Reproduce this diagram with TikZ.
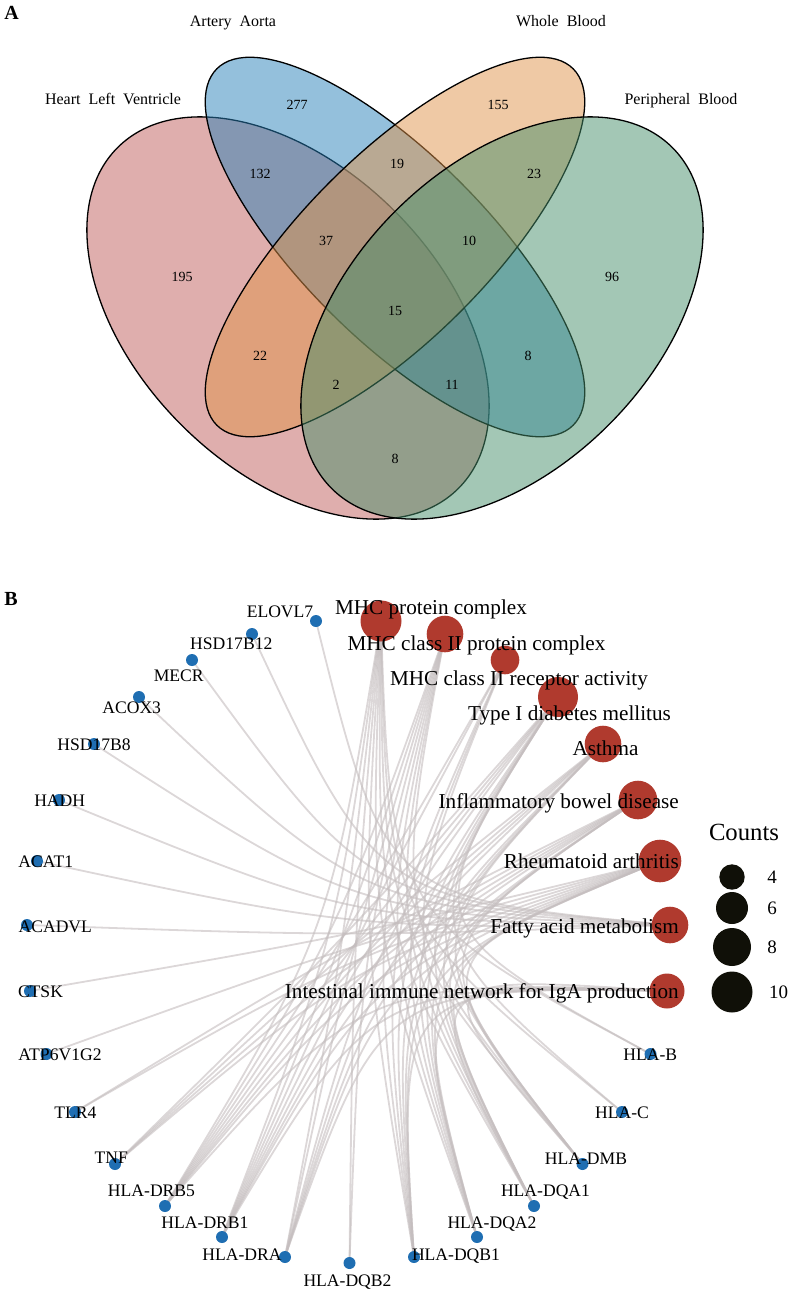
\documentclass[tikz,border=0pt]{standalone}
\usepackage{fontspec}
\setmainfont{Liberation Serif}
\usetikzlibrary{calc}
\pgfdeclarelayer{bg}
\pgfsetlayers{bg,main}
\definecolor{vpink}{RGB}{191,93,91}
\definecolor{vblue}{RGB}{41,129,185}
\definecolor{vorange}{RGB}{223,147,75}
\definecolor{vgreen}{RGB}{71,143,107}
\definecolor{gblue}{RGB}{31,110,178}
\definecolor{tred}{RGB}{176,58,46}
\definecolor{edgec}{RGB}{196,189,190}
\definecolor{legk}{RGB}{16,16,8}
\begin{document}
\begin{tikzpicture}[x=1pt,y=-1pt,
  vset/.style={fill opacity=0.5, draw=black, line width=1.3pt},
  vlab/.style={font=\fontsize{16}{18}\selectfont, inner sep=0, anchor=base},
  vnum/.style={font=\fontsize{14}{16}\selectfont, inner sep=0},
  panel/.style={font=\fontsize{20}{22}\selectfont\bfseries, inner sep=0},
  gene/.style={circle, fill=gblue, minimum size=12pt, inner sep=0},
  term/.style={circle, fill=tred, inner sep=0},
  glab/.style={font=\fontsize{17.6}{20}\selectfont, inner sep=0, anchor=base},
  tlab/.style={font=\fontsize{21.2}{24}\selectfont, inner sep=0, anchor=base},
  tlabr/.style={font=\fontsize{21.2}{24}\selectfont, inner sep=0, anchor=base east},
  edge/.style={draw=edgec, line width=1.8pt, draw opacity=0.6},
  legdot/.style={circle, fill=legk, inner sep=0},
  leglab/.style={font=\fontsize{19}{21}\selectfont, inner sep=0},
]
\useasboundingbox (0,0) rectangle (790,1291);

% ---------------- Panel A : Venn ----------------
\node[panel] (pA) at (11.5,12.5) {A};
\draw[vset, fill=vpink, rotate around={-45:(288,318)}] (288,318) ellipse [x radius=241pt, y radius=151pt];
\draw[vset, fill=vblue, rotate around={-45:(395,247)}] (395,247) ellipse [x radius=252pt, y radius=92pt];
\draw[vset, fill=vorange, rotate around={45:(395,247)}] (395,247) ellipse [x radius=252pt, y radius=92pt];
\draw[vset, fill=vgreen, rotate around={45:(502,318)}] (502,318) ellipse [x radius=241pt, y radius=151pt];

\node[vlab] (lHLV) at (113,104) {Heart~~Left~~Ventricle};
\node[vlab] (lAA) at (233,26) {Artery~~Aorta};
\node[vlab] (lWB) at (561,26) {Whole~~Blood};
\node[vlab] (lPB) at (681,104) {Peripheral~~Blood};

\node[vnum] (n277) at (297,105) {277};
\node[vnum] (n155) at (498,105) {155};
\node[vnum] (n132) at (260,174) {132};
\node[vnum] (n19) at (397,164) {19};
\node[vnum] (n23) at (534,174) {23};
\node[vnum] (n195) at (182,277) {195};
\node[vnum] (n37) at (326,241) {37};
\node[vnum] (n10) at (469,241) {10};
\node[vnum] (n96) at (612,277) {96};
\node[vnum] (n15) at (395,311) {15};
\node[vnum] (n22) at (260,356) {22};
\node[vnum] (n8a) at (528,356) {8};
\node[vnum] (n2) at (336,385) {2};
\node[vnum] (n11) at (452,385) {11};
\node[vnum] (n8b) at (395,459) {8};

% ---------------- Panel B : network ----------------
\node[panel] (pB) at (11,599) {B};
\coordinate (C) at (349,940);

% term nodes
\node[term, minimum size=41pt] (MHCpc) at (381,621) {};
\node[term, minimum size=36.6pt] (MHCIIpc) at (445,634) {};
\node[term, minimum size=28.6pt] (MHCIIra) at (505,660) {};
\node[term, minimum size=40pt] (TID) at (558,697) {};
\node[term, minimum size=36.6pt] (Asthma) at (603,744) {};
\node[term, minimum size=38.6pt] (IBD) at (638,800) {};
\node[term, minimum size=42.6pt] (RA) at (660,861) {};
\node[term, minimum size=36.6pt] (FAM) at (670,925) {};
\node[term, minimum size=35pt] (IgA) at (667,991) {};

% gene nodes
\node[gene] (ELOVL7) at (316,621) {};
\node[gene] (HSDxii) at (252,634) {};
\node[gene] (MECR) at (192,660) {};
\node[gene] (ACOX3) at (139,697) {};
\node[gene] (HSDviii) at (94,744) {};
\node[gene] (HADH) at (59,800) {};
\node[gene] (ACAT1) at (37,861) {};
\node[gene] (ACADVL) at (27,925) {};
\node[gene] (CTSK) at (30,991) {};
\node[gene] (ATP) at (46.5,1054) {};
\node[gene] (TLR4) at (75,1112) {};
\node[gene] (TNF) at (115,1164) {};
\node[gene] (DRB5) at (165,1206) {};
\node[gene] (DRB1) at (222,1237) {};
\node[gene] (DRA) at (285,1257) {};
\node[gene] (DQB2) at (349.5,1263) {};
\node[gene] (DQB1) at (414,1257) {};
\node[gene] (DQA2) at (477,1237) {};
\node[gene] (DQA1) at (534,1206) {};
\node[gene] (DMB) at (582.5,1164) {};
\node[gene] (HC) at (622,1112) {};
\node[gene] (HB) at (650.5,1054) {};

% edges
\begin{pgfonlayer}{bg}
\foreach \t/\g in {
  MHCpc/HB, MHCpc/HC, MHCpc/DMB, MHCpc/DQA1, MHCpc/DQA2, MHCpc/DQB1, MHCpc/DQB2, MHCpc/DRA, MHCpc/DRB1, MHCpc/DRB5,
  MHCIIpc/DMB, MHCIIpc/DQA1, MHCIIpc/DQA2, MHCIIpc/DQB1, MHCIIpc/DQB2, MHCIIpc/DRA, MHCIIpc/DRB1, MHCIIpc/DRB5,
  MHCIIra/DQA1, MHCIIra/DQA2, MHCIIra/DQB1, MHCIIra/DRB1, MHCIIra/DRB5,
  TID/HB, TID/HC, TID/DMB, TID/DQA1, TID/DQA2, TID/DQB1, TID/DRA, TID/DRB1, TID/DRB5, TID/TNF,
  Asthma/DMB, Asthma/DQA1, Asthma/DQA2, Asthma/DQB1, Asthma/DRA, Asthma/DRB1, Asthma/DRB5, Asthma/TNF,
  IBD/DMB, IBD/DQA1, IBD/DQA2, IBD/DQB1, IBD/DRA, IBD/DRB1, IBD/DRB5, IBD/TNF, IBD/TLR4,
  RA/DMB, RA/DQA1, RA/DQA2, RA/DQB1, RA/DRA, RA/DRB1, RA/DRB5, RA/TNF, RA/TLR4, RA/ATP, RA/CTSK,
  FAM/ELOVL7, FAM/HSDxii, FAM/MECR, FAM/ACOX3, FAM/HSDviii, FAM/HADH, FAM/ACAT1, FAM/ACADVL,
  IgA/DMB, IgA/DQA1, IgA/DQA2, IgA/DQB1, IgA/DRA, IgA/DRB1, IgA/DRB5}
  \draw[edge] (\g.center) .. controls ($0.125*(\g.center)+0.125*(\t.center)+0.75*(C)$) .. (\t.center);
\end{pgfonlayer}

% term labels
\node[tlab] (tl1) at (431,614) {MHC protein complex};
\node[tlab] (tl2) at (476.5,650) {MHC class II protein complex};
\node[tlab] (tl3) at (519,685) {MHC class II receptor activity};
\node[tlab] (tl4) at (569.5,720) {Type I diabetes mellitus};
\node[tlab] (tl5) at (605.5,755) {Asthma};
\node[tlabr] (tl6) at (679,808) {Inflammatory bowel disease};
\node[tlabr] (tl7) at (679,868) {Rheumatoid arthritis};
\node[tlabr] (tl8) at (679,933) {Fatty acid metabolism};
\node[tlabr] (tl9) at (679,998) {Intestinal immune network for IgA production};

% gene labels
\node[glab] (gl1) at (280,617) {ELOVL7};
\node[glab] (gl2) at (231.3,649) {HSD17B12};
\node[glab] (gl3) at (178.7,681) {MECR};
\node[glab] (gl4) at (131.7,713) {ACOX3};
\node[glab] (gl5) at (94,750) {HSD17B8};
\node[glab] (gl6) at (59.7,806) {HADH};
\node[glab] (gl7) at (45.7,867) {ACAT1};
\node[glab] (gl8) at (55.3,932) {ACADVL};
\node[glab] (gl9) at (40.5,997) {CTSK};
\node[glab] (gl10) at (60,1060) {ATP6V1G2};
\node[glab] (gl11) at (75.5,1118) {TLR4};
\node[glab] (gl12) at (111.3,1163) {TNF};
\node[glab] (gl13) at (151.5,1196) {HLA-DRB5};
\node[glab] (gl14) at (205,1228) {HLA-DRB1};
\node[glab] (gl15) at (242,1260) {HLA-DRA};
\node[glab] (gl16) at (347.5,1286) {HLA-DQB2};
\node[glab] (gl17) at (456,1260) {HLA-DQB1};
\node[glab] (gl18) at (492,1228) {HLA-DQA2};
\node[glab] (gl19) at (545.5,1196) {HLA-DQA1};
\node[glab] (gl20) at (586,1164) {HLA-DMB};
\node[glab] (gl21) at (622,1118) {HLA-C};
\node[glab] (gl22) at (650.3,1060) {HLA-B};

% legend
\node[font=\fontsize{24.7}{27}\selectfont, inner sep=0] (legt) at (744,832) {Counts};
\node[legdot, minimum size=25.4pt] (lg4) at (732,877) {};
\node[legdot, minimum size=32pt] (lg6) at (732,908) {};
\node[legdot, minimum size=38pt] (lg8) at (732,947) {};
\node[legdot, minimum size=41pt] (lg10) at (732,992) {};
\node[leglab] (ll4) at (772,877) {4};
\node[leglab] (ll6) at (772,908) {6};
\node[leglab] (ll8) at (772,947) {8};
\node[leglab] (ll10) at (778.5,992) {10};
\end{tikzpicture}
\end{document}
